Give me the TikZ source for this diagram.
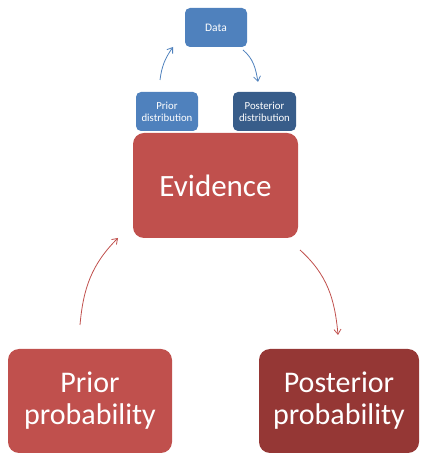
\documentclass[tikz,border=0pt]{standalone}
\usepackage{fontspec}
\setmainfont{Carlito}
\usetikzlibrary{arrows.meta}
\definecolor{evred}{HTML}{C0504D}
\definecolor{darkred}{HTML}{953735}
\definecolor{midblue}{HTML}{4F81BD}
\definecolor{darkblue}{HTML}{385D8A}
\tikzset{
  bigbox/.style={fill=#1, text=white, rounded corners=11pt, inner sep=0pt, align=center, font=\fontsize{30}{32}\selectfont},
  smallbox/.style={fill=#1, text=white, rounded corners=5pt, inner sep=0pt, align=center, font=\fontsize{10.8}{12.3}\selectfont},
  flow/.style={draw=#1, line width=0.8pt, -{Straight Barb[length=5pt,width=7pt]}},
}
\begin{document}
\begin{tikzpicture}[x=1pt,y=1pt]
  \useasboundingbox (0,0) rectangle (420,454);
  % upper cycle: data and distributions
  \node[smallbox=midblue, minimum width=62pt, minimum height=39pt, font=\fontsize{11.5}{13}\selectfont] (data) at (216,426.5) {Data};
  \node[smallbox=midblue, minimum width=62pt, minimum height=39pt] (pdist) at (167,342.5) {Prior\\distribution};
  \node[smallbox=darkblue, minimum width=63pt, minimum height=39pt] (qdist) at (264.5,342.5) {Posterior\\distribution};
  % main boxes
  \node[bigbox=evred, minimum width=165pt, minimum height=105pt, font=\fontsize{31}{34}\selectfont] (evid) at (215.5,268.5) {Evidence};
  \node[bigbox=evred, minimum width=164pt, minimum height=104pt] (pprob) at (90,53) {Prior\\probability};
  \node[bigbox=darkred, minimum width=160pt, minimum height=104pt] (qprob) at (339,53) {Posterior\\probability};
  % arrow end points
  \coordinate (a1s) at (160,374);
  \coordinate (a1e) at (173,407);
  \coordinate (a2s) at (243,404);
  \coordinate (a2e) at (258,372);
  \coordinate (a3s) at (80,129);
  \coordinate (a3e) at (118,216);
  \coordinate (a4s) at (300,204);
  \coordinate (a4e) at (338,119);
  % connectors
  \draw[flow=midblue] (a1s) to[out=83,in=235] (a1e);
  \draw[flow=midblue] (a2s) to[out=-40,in=100] (a2e);
  \draw[flow=evred] (a3s) to[out=85,in=225] (a3e);
  \draw[flow=evred] (a4s) to[out=-42,in=95] (a4e);
\end{tikzpicture}
\end{document}
